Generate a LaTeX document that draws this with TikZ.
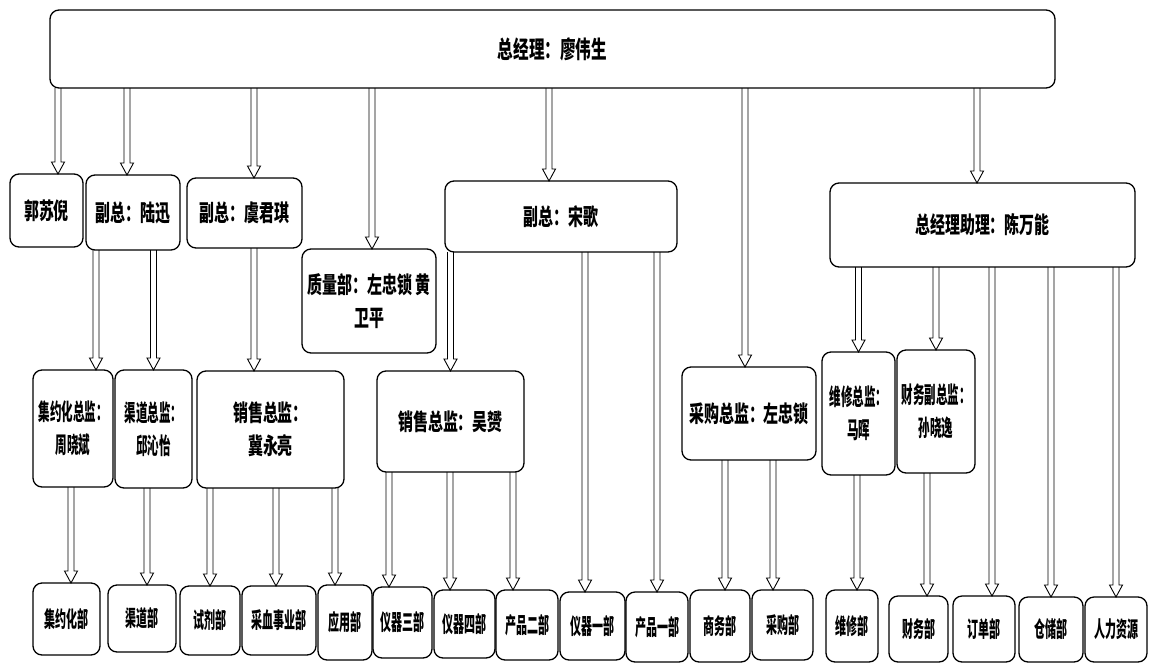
\documentclass[tikz,border=0pt]{standalone}
\usepackage{fontspec}
\newfontfamily\cjk{Noto Sans CJK SC}[FakeStretch=0.65]
\newfontfamily\cjknarrow{Noto Sans CJK SC}[FakeStretch=0.5]
\usetikzlibrary{calc}
\tikzset{
  box/.style={draw, line width=1.3pt, rounded corners=9pt, inner sep=0pt, outer sep=0pt, align=center,
    font=\cjk\bfseries\fontsize{23}{33}\selectfont},
  bigtext/.style={font=\cjk\bfseries\fontsize{24}{33}\selectfont},
  smalltext/.style={font=\cjknarrow\bfseries\fontsize{22}{30}\selectfont},
  barrow/.style={line width=0.9pt, to path={let \p1=(\tikztostart), \p2=(\tikztotarget) in
    (\x2-3pt,\y1) -- (\x2-3pt,\y2+12pt) -- (\x2-6.5pt,\y2+12pt) -- (\x2,\y2) -- (\x2+6.5pt,\y2+12pt) -- (\x2+3pt,\y2+12pt) -- (\x2+3pt,\y1)}}
}
\newcommand\obox[7][]{\node[box, #1, minimum width={(#5-#3)*1pt}, minimum height={(#6-#4)*1pt}] (#2) at ({(#3+#5)/2},{(#4+#6)/2}) {#7};}
\begin{document}
\begin{tikzpicture}[x=1pt,y=-1pt]
\useasboundingbox (0,0) rectangle (1157,665);
% level 0
\obox[bigtext]{gm}{50}{10}{1055}{88}{总经理：廖伟生}
% level 1
\obox{guo}{10}{174}{83}{247}{郭苏倪}
\obox{lx}{86}{175}{180}{250}{副总：陆迅}
\obox{yjq}{187}{178}{302}{248}{副总：虞君琪}
\obox{zl}{302}{249}{436}{353}{质量部：左忠锁 黄\\卫平}
\obox{sg}{445}{181}{677}{252}{副总：宋歌}
\obox{zjl}{830}{183}{1135}{267}{总经理助理：陈万能}
% level 2
\obox{jyz}{33}{370}{113}{487}{\cjknarrow 集约化总监：\\\cjknarrow 周晓斌}
\obox{qdz}{115}{370}{192}{488}{\cjknarrow 渠道总监：\\\cjknarrow 邱沁怡}
\obox{jyl}{197}{371}{344}{488}{销售总监：\\冀永亮}
\obox{wy}{377}{371}{524}{472}{销售总监：吴赟}
\obox{cg}{682}{367}{816}{460}{采购总监：左忠锁}
\obox{wx}{822}{352}{895}{475}{\cjknarrow 维修总监：\\\cjknarrow 马晖}
\obox{cw}{897}{350}{975}{473}{\cjknarrow 财务副总监：\\\cjknarrow 孙晓逸}
% level 3
\obox[smalltext]{jyhb}{33}{583}{100}{655}{集约化部}
\obox[smalltext]{qdb}{108}{585}{176}{652}{渠道部}
\obox[smalltext]{sjb}{180}{586}{240}{655}{试剂部}
\obox[smalltext]{cxb}{242}{586}{316}{655}{采血事业部}
\obox[smalltext]{yyb}{318}{585}{372}{660}{应用部}
\obox[smalltext]{yq3}{373}{587}{432}{658}{仪器三部}
\obox[smalltext]{yq4}{434}{590}{495}{658}{仪器四部}
\obox[smalltext]{cp2}{496}{590}{558}{660}{产品二部}
\obox[smalltext]{yq1}{560}{592}{625}{660}{仪器一部}
\obox[smalltext]{cp1}{626}{592}{688}{662}{产品一部}
\obox[smalltext]{swb}{690}{590}{750}{662}{商务部}
\obox[smalltext]{cgb}{752}{590}{813}{660}{采购部}
\obox[smalltext]{wxb}{826}{590}{878}{662}{维修部}
\obox[smalltext]{cwb}{889}{596}{948}{662}{财务部}
\obox[smalltext]{ddb}{953}{596}{1015}{662}{订单部}
\obox[smalltext]{ccb}{1019}{597}{1083}{662}{仓储部}
\obox[smalltext]{rlzy}{1085}{597}{1147}{662}{人力资源}
% arrows level 0 -> 1
\draw[barrow] (gm.south) to ([xshift=11.5pt]guo.north);
\draw[barrow] (gm.south) to ([xshift=-6pt]lx.north);
\draw[barrow] (gm.south) to ([xshift=9.5pt]yjq.north);
\draw[barrow] (gm.south) to ([xshift=3pt]zl.north);
\draw[barrow] (gm.south) to ([xshift=-12pt]sg.north);
\draw[barrow] (gm.south) to ([xshift=-4pt]cg.north);
\draw[barrow] (gm.south) to ([xshift=-5.5pt]zjl.north);
% level 1 -> 2
\draw[barrow] (lx.south) to ([xshift=23pt]jyz.north);
\draw[barrow] (lx.south) to (qdz.north);
\draw[barrow] (yjq.south) to ([xshift=-16.5pt]jyl.north);
\draw[barrow] (sg.south) to (wy.north);
\draw[barrow] (zjl.south) to (wx.north);
\draw[barrow] (zjl.south) to (cw.north);
% level 2 -> 3
\draw[barrow] (jyz.south) to ([xshift=4.5pt]jyhb.north);
\draw[barrow] (qdz.south) to ([xshift=5pt]qdb.north);
\draw[barrow] (jyl.south) to (sjb.north);
\draw[barrow] (jyl.south) to ([xshift=-3pt]cxb.north);
\draw[barrow] (jyl.south) to ([xshift=-10pt]yyb.north);
\draw[barrow] (wy.south) to ([xshift=-13.5pt]yq3.north);
\draw[barrow] (wy.south) to ([xshift=-14.5pt]yq4.north);
\draw[barrow] (wy.south) to ([xshift=-14pt]cp2.north);
\draw[barrow] (sg.south) to ([xshift=-7.5pt]yq1.north);
\draw[barrow] (sg.south) to (cp1.north);
\draw[barrow] (cg.south) to ([xshift=5pt]swb.north);
\draw[barrow] (cg.south) to ([xshift=-9.5pt]cgb.north);
\draw[barrow] (wx.south) to ([xshift=5pt]wxb.north);
\draw[barrow] (cw.south) to ([xshift=8.5pt]cwb.north);
\draw[barrow] (zjl.south) to ([xshift=8pt]ddb.north);
\draw[barrow] (zjl.south) to (ccb.north);
\draw[barrow] (zjl.south) to (rlzy.north);
\end{tikzpicture}
\end{document}
